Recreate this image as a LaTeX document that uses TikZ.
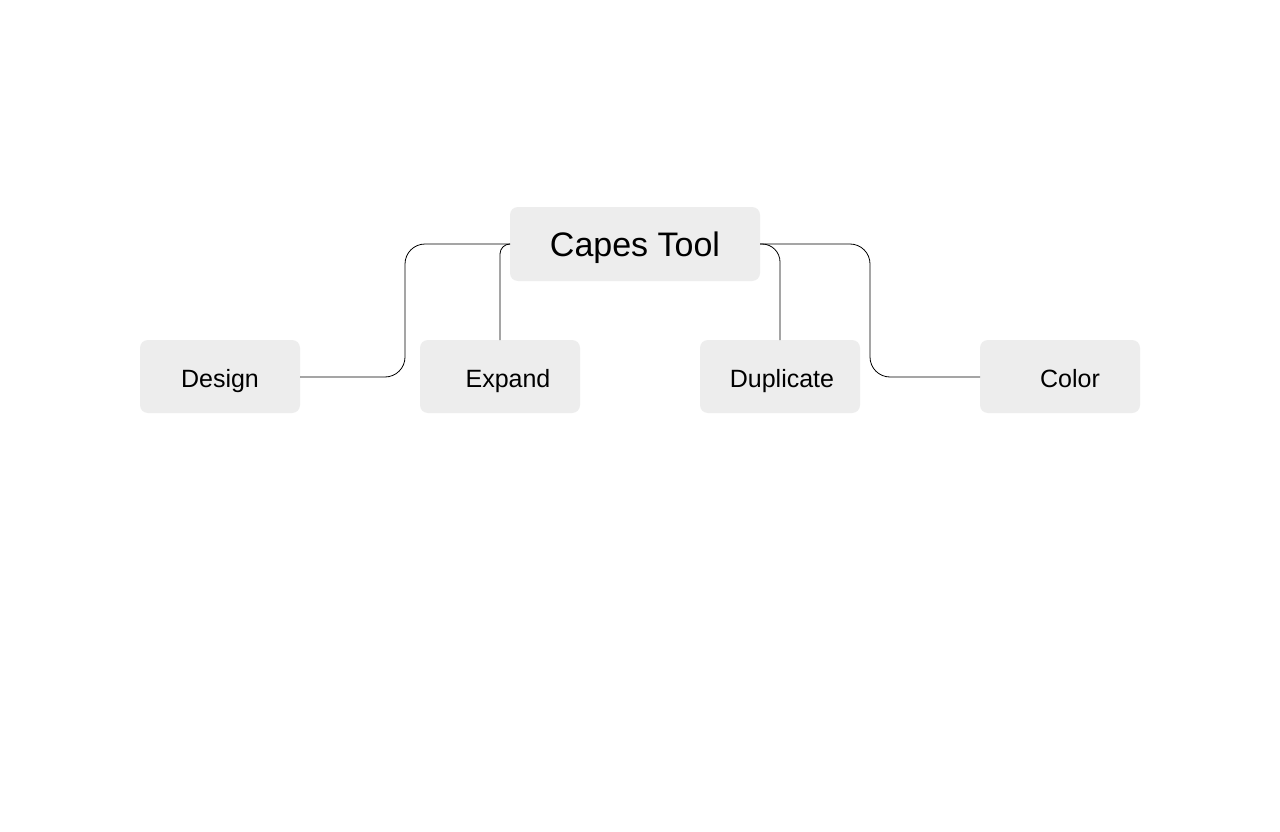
\documentclass[tikz,border=0pt]{standalone}
\usepackage{fontspec}
\setmainfont{Liberation Sans}
\definecolor{boxgray}{HTML}{EDEDED}
\begin{document}
\begin{tikzpicture}[x=1pt,y=-1pt,
  box/.style={fill=boxgray,rounded corners=8pt,inner sep=0pt},
  lbl/.style={inner sep=0pt,anchor=base,text=black},
  small/.style={lbl,font=\fontsize{25}{28}\selectfont},
  conn/.style={draw=black,line width=0.8pt}]
\useasboundingbox (0,0) rectangle (1280,832);
\fill[white] (0,0) rectangle (1280,832);
% boxes
\path[box] (510,207) rectangle (760,281);
\path[box] (140,340) rectangle (300,413);
\path[box] (420,340) rectangle (580,413);
\path[box] (700,340) rectangle (860,413);
\path[box] (980,340) rectangle (1140,413);
% anchors
\coordinate (cW) at (510,244);
\coordinate (cE) at (760,244);
\coordinate (dE) at (300,377);
\coordinate (eN) at (500,340);
\coordinate (uN) at (780,340);
\coordinate (kW) at (980,377);
% labels
\node[lbl,font=\fontsize{34}{38}\selectfont] (capes) at (635,256) {Capes Tool};
\node[small] (design) at (220,387) {Design};
\node[small] (expand) at (508,387) {Expand};
\node[small] (dup) at (782,387) {Duplicate};
\node[small] (color) at (1070,387) {Color};
% connectors
\draw[conn,rounded corners=20pt] (cW) -- (405,244) -- (405,377) -- (dE);
\draw[conn,rounded corners=10pt] (cW) -- (500,244) -- (eN);
\draw[conn,rounded corners=18pt] (cE) -- (780,244) -- (uN);
\draw[conn,rounded corners=20pt] (cE) -- (870,244) -- (870,377) -- (kW);
\end{tikzpicture}
\end{document}
